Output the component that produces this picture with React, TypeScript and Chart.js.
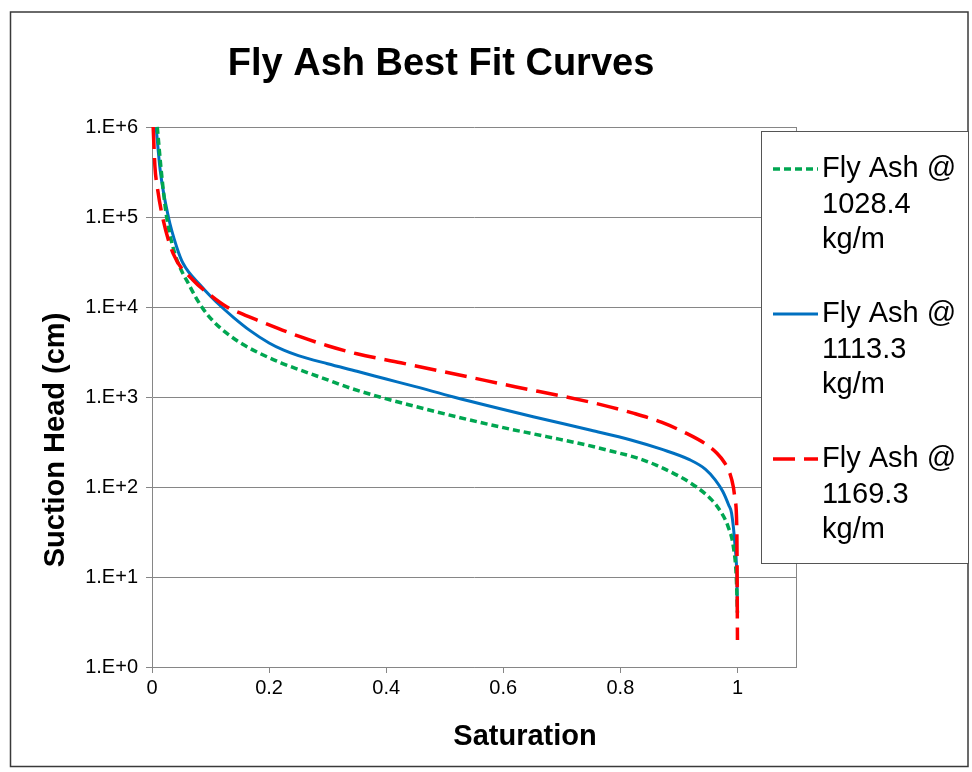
import React, { useEffect, useRef } from "react";
import { Chart, registerables } from "chart.js";

Chart.register(...registerables);

const titleText = "Fly Ash Best Fit Curves";
const xAxisTitle = "Saturation";
const yAxisTitle = "Suction Head (cm)";

const xTickValues = [0, 0.2, 0.4, 0.6, 0.8, 1];
const xTickLabels = ["0", "0.2", "0.4", "0.6", "0.8", "1"];
const yTickValues = [1, 10, 100, 1000, 10000, 100000, 1000000];
const yTickLabels = ["1.E+0", "1.E+1", "1.E+2", "1.E+3", "1.E+4", "1.E+5", "1.E+6"];

const seriesNames = [
  ["Fly Ash @", "1028.4", "kg/m"],
  ["Fly Ash @", "1113.3", "kg/m"],
  ["Fly Ash @", "1169.3", "kg/m"],
];

// Fly Ash @ 1028.4 kg/m (green, short dash)
const satGreen = [0.009, 0.016, 0.025, 0.039, 0.065, 0.085, 0.105, 0.128, 0.155, 0.184, 0.22, 0.253, 0.3, 0.338, 0.389, 0.44, 0.52, 0.6, 0.674, 0.74, 0.787, 0.83, 0.862, 0.9, 0.93, 0.956, 0.972, 0.984, 0.993, 0.998, 1.0];
const headGreen = [1000000, 316000, 100000, 39400, 16800, 10000, 6920, 5090, 3850, 3055, 2400, 1995, 1550, 1260, 1000, 815, 603, 457, 363, 295, 248, 209, 174, 132, 100, 72, 52.5, 36.3, 21.7, 10, 4];

// Fly Ash @ 1113.3 kg/m (blue, solid)
const satBlue = [0.007, 0.014, 0.028, 0.042, 0.053, 0.085, 0.1, 0.119, 0.14, 0.167, 0.2, 0.225, 0.25, 0.3, 0.35, 0.4, 0.45, 0.515, 0.651, 0.75, 0.818, 0.87, 0.919, 0.945, 0.962, 0.975, 0.985, 0.99, 0.996, 0.999, 1.0];
const headBlue = [1000000, 331000, 100000, 46800, 30600, 16800, 13180, 10000, 7590, 5500, 3980, 3310, 2880, 2340, 1930, 1585, 1303, 1000, 604, 427, 333, 263, 200, 158, 120, 89, 63, 51, 21.7, 10, 4];

// Fly Ash @ 1169.3 kg/m (red, long dash)
const satRed = [0.002, 0.005, 0.009, 0.018, 0.036, 0.07, 0.1, 0.128, 0.155, 0.179, 0.253, 0.3, 0.35, 0.425, 0.539, 0.62, 0.708, 0.77, 0.822, 0.87, 0.913, 0.945, 0.965, 0.978, 0.987, 0.993, 0.996, 0.999, 1.0];
const headRed = [1000000, 362000, 217000, 100000, 39400, 19950, 13490, 10000, 8320, 7180, 4680, 3715, 3020, 2400, 1680, 1300, 1000, 813, 661, 525, 394, 302, 237, 186, 142, 100, 71.8, 30.8, 2];

const seriesColors = ["#00A651", "#0070C0", "#FF0000"];
const seriesDashes = [[7, 4], [], [22, 9]];
const seriesWidths = [3.5, 3, 3.5];

const FONT = "'Liberation Sans', Arial, sans-serif";

const toPoints = (xs: number[], ys: number[]) => xs.map((x, i) => ({ x, y: ys[i] }));

const decorPlugin = {
  id: "decor",
  beforeDraw(chart: any) {
    const ctx = chart.ctx;
    ctx.save();
    ctx.fillStyle = "#ffffff";
    ctx.fillRect(0, 0, chart.width, chart.height);
    ctx.strokeStyle = "#3a3a3a";
    ctx.lineWidth = 1.5;
    ctx.strokeRect(10.5, 12, 957.5, 754.5);
    ctx.restore();
  },
  afterDraw(chart: any) {
    const ctx = chart.ctx;
    const a = chart.chartArea;
    ctx.save();
    ctx.strokeStyle = "#868686";
    ctx.lineWidth = 1;
    ctx.beginPath();
    ctx.moveTo(Math.round(a.right) + 0.5, a.top);
    ctx.lineTo(Math.round(a.right) + 0.5, a.bottom);
    ctx.stroke();

    ctx.fillStyle = "#000";
    ctx.textAlign = "center";
    ctx.textBaseline = "alphabetic";
    ctx.font = `bold 38px ${FONT}`;
    ctx.fillText(titleText, 441, 75);

    ctx.font = `bold 29px ${FONT}`;
    ctx.fillText(xAxisTitle, 525, 745);

    ctx.save();
    ctx.translate(64, 440);
    ctx.rotate(-Math.PI / 2);
    ctx.fillText(yAxisTitle, 0, 0);
    ctx.restore();

    const lx = 761, ly = 131, lw = 207, lh = 432;
    ctx.fillStyle = "#fff";
    ctx.fillRect(lx, ly, lw, lh);
    ctx.strokeStyle = "#555";
    ctx.lineWidth = 1;
    ctx.strokeRect(lx + 0.5, ly + 0.5, lw, lh);
    ctx.textAlign = "left";
    ctx.font = `29px ${FONT}`;
    const baselines = [177, 322, 467];
    seriesNames.forEach((lines, i) => {
      const b = baselines[i];
      ctx.strokeStyle = seriesColors[i];
      ctx.lineWidth = seriesWidths[i];
      ctx.setLineDash(seriesDashes[i]);
      ctx.beginPath();
      ctx.moveTo(773, b - 8);
      ctx.lineTo(818, b - 8);
      ctx.stroke();
      ctx.setLineDash([]);
      ctx.fillStyle = "#000";
      lines.forEach((t, j) => ctx.fillText(t, 822, b + j * 35.5));
    });
    ctx.restore();
  },
};

export default function App() {
  const ref = useRef<HTMLCanvasElement | null>(null);
  useEffect(() => {
    if (!ref.current) return;
    const sats = [satGreen, satBlue, satRed];
    const heads = [headGreen, headBlue, headRed];
    const orders = [2, 3, 1];
    const chart = new Chart(ref.current, {
      type: "scatter",
      data: {
        datasets: sats.map((s, i) => ({
          label: seriesNames[i].join(" "),
          data: toPoints(s, heads[i]),
          showLine: true,
          borderColor: seriesColors[i],
          backgroundColor: seriesColors[i],
          borderWidth: seriesWidths[i],
          borderDash: seriesDashes[i],
          pointRadius: 0,
          pointHoverRadius: 0,
          cubicInterpolationMode: "monotone",
          order: orders[i],
          clip: false,
        })),
      },
      options: {
        responsive: false,
        animation: false,
        events: [],
        layout: { padding: { left: 0, top: 127, right: 176, bottom: 0 } },
        plugins: {
          legend: { display: false },
          title: { display: false },
          tooltip: { enabled: false },
        },
        scales: {
          x: {
            type: "linear",
            min: 0,
            max: 1.1,
            afterFit: (s: any) => { s.height = 105; },
            afterBuildTicks: (s: any) => { s.ticks = xTickValues.map((v) => ({ value: v })); },
            grid: { drawOnChartArea: false, drawTicks: true, tickLength: 6, color: "#868686" },
            border: { color: "#868686", width: 1 },
            ticks: {
              padding: 3,
              color: "#000",
              font: { size: 20, family: FONT },
              maxRotation: 0,
              callback: (_v: any, i: number) => xTickLabels[i],
            },
          },
          y: {
            type: "logarithmic",
            min: 1,
            max: 1000000,
            afterFit: (s: any) => { s.width = 152; },
            afterBuildTicks: (s: any) => { s.ticks = yTickValues.map((v) => ({ value: v })); },
            grid: { drawOnChartArea: true, drawTicks: true, tickLength: 6, color: "#868686" },
            border: { color: "#868686", width: 1 },
            ticks: {
              padding: 8,
              color: "#000",
              font: { size: 20, family: FONT },
              callback: (_v: any, i: number) => yTickLabels[i],
            },
          },
        },
      },
      plugins: [decorPlugin],
    } as any);
    return () => chart.destroy();
  }, []);
  return (
    <div style={{ position: "absolute", left: 0, top: 0, width: 972, height: 772 }}>
      <canvas ref={ref} width={972} height={772} style={{ display: "block" }} />
    </div>
  );
}
